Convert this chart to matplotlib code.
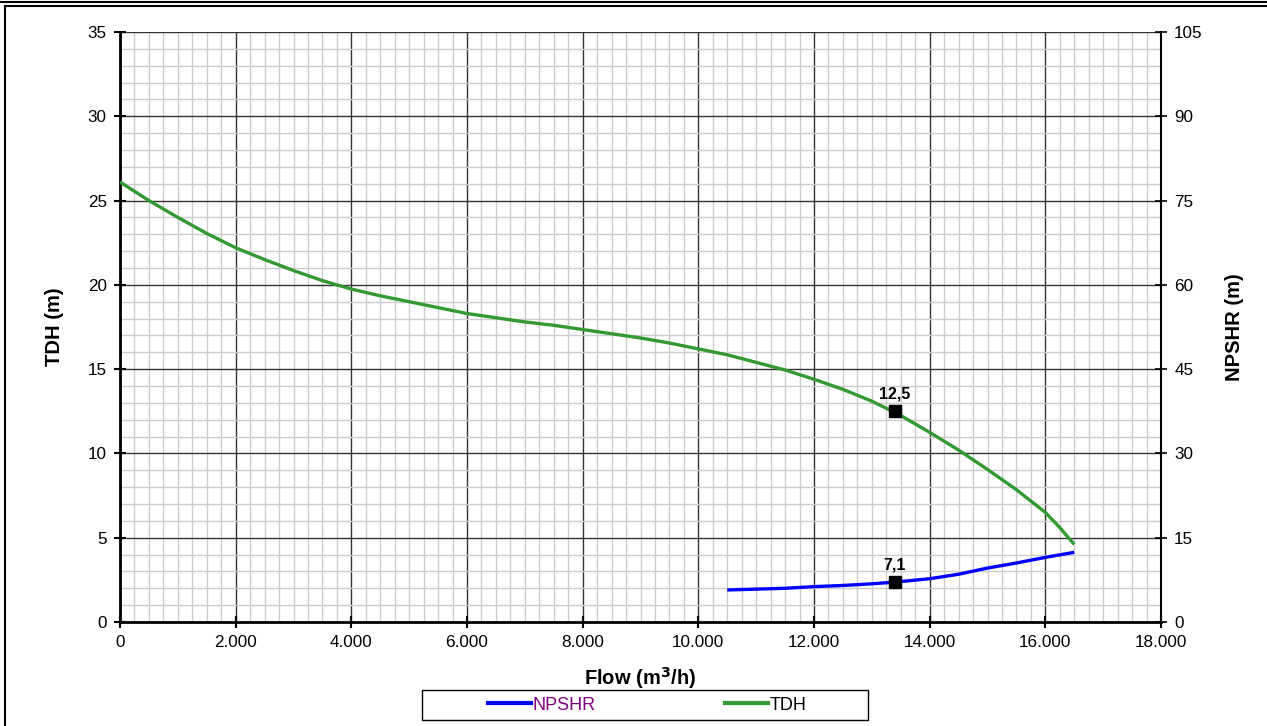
import matplotlib
matplotlib.use("Agg")
import matplotlib.pyplot as plt
from matplotlib.ticker import MultipleLocator, FuncFormatter
from matplotlib.lines import Line2D
from matplotlib.patches import Rectangle

plt.rcParams['font.family'] = ['Liberation Sans', 'DejaVu Sans']

# Data
flow_tdh = [0, 500, 1000, 1500, 2000, 2500, 3000, 3500, 4000, 4500, 5000, 5500,
            6000, 6500, 7000, 7500, 8000, 8500, 9000, 9500, 10000, 10500, 11000,
            11500, 12000, 12500, 13000, 13500, 14000, 14500, 15000, 15500, 16000,
            16250, 16500]
tdh = [26.1, 25.0, 24.0, 23.05, 22.2, 21.5, 20.85, 20.25, 19.75, 19.35, 19.0, 18.65,
       18.3, 18.05, 17.8, 17.6, 17.35, 17.1, 16.85, 16.55, 16.2, 15.85, 15.4,
       14.95, 14.4, 13.8, 13.1, 12.25, 11.25, 10.2, 9.05, 7.85, 6.5,
       5.6, 4.6]
flow_npshr = [10500, 11000, 11500, 12000, 12500, 13000, 13400, 14000, 14500,
              15000, 15500, 16000, 16500]
npshr = [5.7, 5.85, 6.0, 6.3, 6.5, 6.8, 7.1, 7.7, 8.5, 9.6, 10.5, 11.5, 12.4]
duty_flow = 13400
duty_tdh = 12.5
duty_npshr = 7.1

fig = plt.figure(figsize=(12.67, 7.26), dpi=100)
ax = fig.add_axes([120/1267, 1-622/726, 1041/1267, 590/726])
ax2 = ax.twinx()

ax.set_xlim(0, 18000)
ax.set_ylim(0, 35)
ax2.set_ylim(0, 105)

ax.xaxis.set_major_locator(MultipleLocator(2000))
ax.xaxis.set_minor_locator(MultipleLocator(250))
ax.yaxis.set_major_locator(MultipleLocator(5))
ax.yaxis.set_minor_locator(MultipleLocator(1))
ax2.yaxis.set_major_locator(MultipleLocator(15))

ax.xaxis.set_major_formatter(FuncFormatter(lambda v, p: f"{int(v):,}".replace(",", ".")))

ax.grid(which='minor', color='#cccccc', linewidth=1.0)
ax.grid(which='major', color='#333333', linewidth=1.0)
ax.set_axisbelow(True)

for a in (ax, ax2):
    a.spines['top'].set_visible(False)
ax.spines['left'].set_linewidth(2)
ax.spines['bottom'].set_linewidth(2)
ax2.spines['left'].set_visible(False)
ax2.spines['bottom'].set_visible(False)
ax2.spines['right'].set_linewidth(1.5)
ax.spines['right'].set_visible(False)

ax.tick_params(which='major', direction='inout', length=9, width=1.5, labelsize=12.3, pad=5)
ax.tick_params(which='minor', length=0)
ax2.tick_params(which='major', direction='inout', length=9, width=1.2, labelsize=12.3, pad=5)

ax2.plot(flow_npshr, npshr, color='#0000ff', linewidth=2.4, label='NPSHR', zorder=3,
         solid_capstyle='butt')
ax.plot(flow_tdh, tdh, color='#339933', linewidth=2.4, label='TDH', zorder=3,
        solid_capstyle='butt')

ax.plot([duty_flow], [duty_tdh], marker='s', color='black', markersize=8, zorder=4)
ax2.plot([duty_flow], [duty_npshr], marker='s', color='black', markersize=8, zorder=4)
ax.annotate(f"{duty_tdh}".replace(".", ","), (duty_flow, duty_tdh), xytext=(0, 7),
            textcoords='offset points', ha='center', va='bottom', fontsize=11.5, fontweight='bold')
ax2.annotate(f"{duty_npshr}".replace(".", ","), (duty_flow, duty_npshr), xytext=(0, 7),
             textcoords='offset points', ha='center', va='bottom', fontsize=11.5, fontweight='bold')

ax.set_xlabel('Flow (m$^\\mathbf{3}$/h)', fontsize=14.5, fontweight='bold', labelpad=11)
ax.set_ylabel('TDH (m)', fontsize=14.5, fontweight='bold', labelpad=17)
ax2.set_ylabel('NPSHR (m)', fontsize=14.5, fontweight='bold', labelpad=16)

# legend box
fig.add_artist(Rectangle((422/1267, 1-720/726), 446/1267, 30/726, transform=fig.transFigure,
                         facecolor='white', edgecolor='black', linewidth=1.0))
handles = [Line2D([], [], color='#0000ff', linewidth=3),
           Line2D([], [], color='#339933', linewidth=3)]
leg = fig.legend(handles, ['NPSHR', 'TDH'], ncol=2,
                 bbox_to_anchor=(647/1267, 1-705/726), loc='center',
                 frameon=False, fontsize=13, handlelength=2.4,
                 handletextpad=0.05, columnspacing=7.2)
leg.get_texts()[0].set_color('#800080')

# outer frame lines
fig.add_artist(Line2D([0, 1], [1-1.5/726, 1-1.5/726], color='black', linewidth=1.5, transform=fig.transFigure))
fig.add_artist(Line2D([5/1267, 1], [1-6/726, 1-6/726], color='black', linewidth=1.5, transform=fig.transFigure))
fig.add_artist(Line2D([5/1267, 5/1267], [0, 1-6/726], color='black', linewidth=1.5, transform=fig.transFigure))

fig.savefig('out.png', dpi=100)
